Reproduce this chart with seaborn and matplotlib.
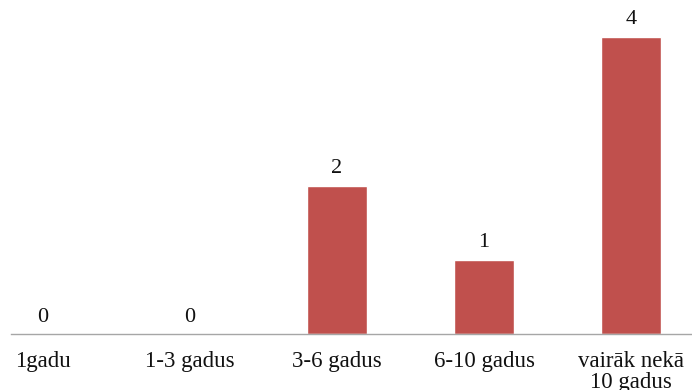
import matplotlib
matplotlib.use("Agg")
import matplotlib.pyplot as plt
import seaborn as sns
import pandas as pd

categories = ["1gadu", "1-3 gadus", "3-6 gadus", "6-10 gadus", "vairāk nekā\n10 gadus"]
values = [0, 0, 2, 1, 4]

df = pd.DataFrame({"kategorija": categories, "skaits": values})

sns.set_theme(style="white")
plt.rcParams["font.family"] = ["Liberation Serif", "DejaVu Serif"]

fig = plt.figure(figsize=(6.92, 3.90), dpi=100)
W, H = 692, 390
# axes box in pixel terms: x from 11 to 692, y from 0 (top) to 334 (baseline)
ax = fig.add_axes([11 / W, (H - 334) / H, (692 - 11) / W, 334 / H])

sns.barplot(data=df, x="kategorija", y="skaits", color="#C0504D",
            width=0.41, saturation=1, ax=ax)

ax.set_xlim((11 - 43) / 147, (692 - 43) / 147)
ax.set_ylim(0, 334 / 74.25)

for side in ["top", "right", "left"]:
    ax.spines[side].set_visible(False)
ax.spines["bottom"].set_color("#A6A6A6")
ax.spines["bottom"].set_linewidth(1.0)
ax.set_yticks([])
ax.set_xlabel("")
ax.set_ylabel("")
ax.tick_params(axis="x", length=0, pad=12.5, labelsize=16.5, colors="#111111")
for lbl in ax.get_xticklabels():
    lbl.set_linespacing(0.97)

for i, v in enumerate(values):
    ax.annotate(str(v), (i, v), xytext=(0, 9), textcoords="offset points",
                ha="center", va="baseline", fontsize=16, color="#111111")

fig.savefig("out.png", dpi=100)
